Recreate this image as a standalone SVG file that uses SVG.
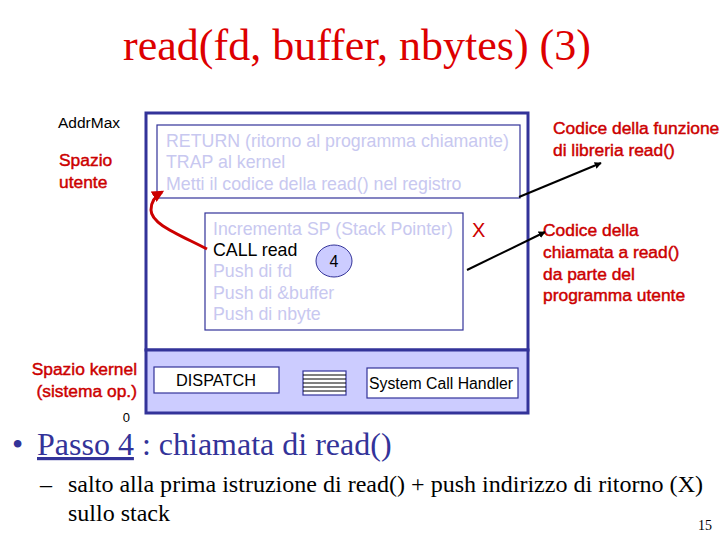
<svg xmlns="http://www.w3.org/2000/svg" width="720" height="540" viewBox="0 0 720 540">
<style>
.sans{font-family:"Liberation Sans",Arial,sans-serif}
.serif{font-family:"Liberation Serif","Times New Roman",serif}
.faint{fill:#c8c8f0;font-size:17.8px}
.red{fill:#cc0000}
.box{fill:#ffffff;stroke:#333399;stroke-width:1.2}
.lbl{font-size:17.4px;stroke:#cc0000;stroke-width:0.45}
</style>
<defs>
<marker id="ah" viewBox="0 0 10 10" refX="9" refY="5" markerWidth="7" markerHeight="7" markerUnits="userSpaceOnUse" orient="auto">
<path d="M0,0 L10,5 L0,10 z" fill="#000"/>
</marker>
<marker id="ahr" viewBox="0 0 10 10" refX="8" refY="5" markerWidth="4" markerHeight="4" orient="auto">
<path d="M0,0 L10,5 L0,10 z" fill="#cc0000"/>
</marker>
</defs>
<rect width="720" height="540" fill="#ffffff"/>
<text class="serif" x="357" y="60" font-size="44" text-anchor="middle" fill="#dd0000">read(fd, buffer, nbytes) (3)</text>

<g id="memory">
<rect x="146" y="113" width="382" height="237" fill="#ffffff" stroke="#333399" stroke-width="3"/>
<rect x="146" y="350" width="382" height="63" fill="#ccccff" stroke="#333399" stroke-width="3"/>
</g>

<g id="library-code">
<rect class="box" x="157" y="125" width="363" height="73"/>
<text class="sans faint" x="166" y="147">RETURN (ritorno al programma chiamante)</text>
<text class="sans faint" x="166" y="168">TRAP al kernel</text>
<text class="sans faint" x="166" y="190">Metti il codice della read() nel registro</text>
</g>

<g id="user-code">
<rect class="box" x="205" y="213" width="258" height="117"/>
<text class="sans faint" x="213" y="235">Incrementa SP (Stack Pointer)</text>
<text class="sans" x="213" y="256" font-size="17.8" fill="#000">CALL read</text>
<text class="sans faint" x="213" y="277">Push di fd</text>
<text class="sans faint" x="213" y="299">Push di &amp;buffer</text>
<text class="sans faint" x="213" y="320">Push di nbyte</text>
</g>

<g id="step4">
<ellipse cx="334" cy="261" rx="18" ry="16" fill="#ccccff" stroke="#333399" stroke-width="1"/>
<text class="sans" x="334" y="267" font-size="16" text-anchor="middle" fill="#000">4</text>
</g>

<text class="sans red" x="472" y="237" font-size="20">X</text>

<g id="dispatch">
<rect class="box" x="154" y="367" width="125" height="26"/>
<text class="sans" x="216" y="386" font-size="16.3" text-anchor="middle" fill="#000">DISPATCH</text>
</g>

<g id="table">
<rect x="303" y="371" width="43" height="24" fill="#ffffff" stroke="#333399" stroke-width="1.2"/>
<path d="M303,375 H346 M303,379 H346 M303,383 H346 M303,387 H346 M303,391 H346" stroke="#000" stroke-width="1"/>
</g>

<g id="handler">
<rect class="box" x="367" y="368" width="151" height="30"/>
<text class="sans" x="369" y="389" font-size="15.8" fill="#000">System Call Handler</text>
</g>

<g id="labels">
<text class="sans" x="58" y="128" font-size="15.5" fill="#000">AddrMax</text>
<text class="sans red lbl" x="59" y="166">Spazio</text>
<text class="sans red lbl" x="59" y="188">utente</text>
<text class="sans red lbl" x="137" y="375" text-anchor="end">Spazio kernel</text>
<text class="sans red lbl" x="137" y="397" text-anchor="end">(sistema op.)</text>
<text class="sans" x="130" y="422" font-size="13" text-anchor="end" fill="#000">0</text>
<text class="sans red lbl" x="553" y="134">Codice della funzione</text>
<text class="sans red lbl" x="553" y="156">di libreria read()</text>
<text class="sans red lbl" x="543" y="236">Codice della</text>
<text class="sans red lbl" x="543" y="258">chiamata a read()</text>
<text class="sans red lbl" x="543" y="280">da parte del</text>
<text class="sans red lbl" x="543" y="301">programma utente</text>
</g>

<g id="connectors">
<line x1="519" y1="197" x2="601" y2="163" stroke="#000" stroke-width="2" marker-end="url(#ah)"/>
<line x1="467" y1="270" x2="545" y2="232" stroke="#000" stroke-width="2" marker-end="url(#ah)"/>
<path d="M207,249 C178,234 151,224 151,210 C151,202 155,196 162,192" fill="none" stroke="#cc0000" stroke-width="3" marker-end="url(#ahr)"/>
</g>

<g id="bullets">
<text class="serif" x="12" y="455" font-size="32" fill="#333399">•</text>
<text class="serif" x="37" y="455" font-size="32" fill="#333399"><tspan text-decoration="underline">Passo 4</tspan> : chiamata di read()</text>
<text class="serif" x="40" y="492" font-size="24" fill="#000">–</text>
<text class="serif" x="68" y="492" font-size="24" fill="#000" textLength="635" lengthAdjust="spacingAndGlyphs">salto alla prima istruzione di read() + push indirizzo di ritorno (X)</text>
<text class="serif" x="68" y="521" font-size="24" fill="#000">sullo stack</text>
<text class="serif" x="712" y="530" font-size="14" text-anchor="end" fill="#000">15</text>
</g>
</svg>
